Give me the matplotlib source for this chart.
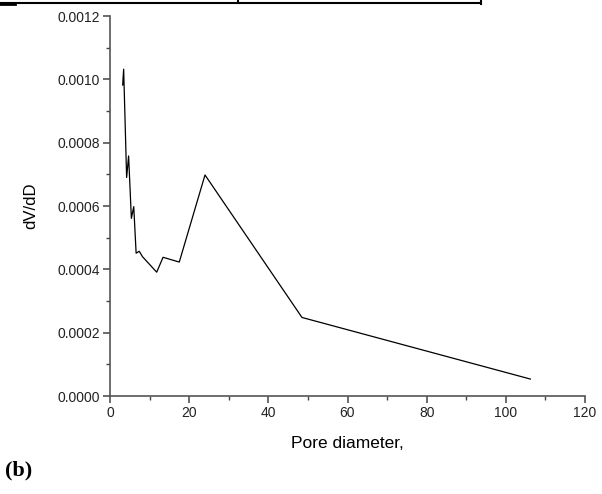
import matplotlib
matplotlib.use("Agg")
import matplotlib.pyplot as plt
from matplotlib.lines import Line2D
from matplotlib.ticker import MultipleLocator, FormatStrFormatter

# Pore size distribution (dV/dD vs pore diameter)
pore_diameter = [3.2, 3.45, 4.2, 4.7, 5.4, 6.0, 6.6, 7.4, 8.2, 11.8, 13.4, 17.5, 24.0, 48.5, 106.2]
dv_dd = [0.000982, 0.001032, 0.000690, 0.000758, 0.000561, 0.000598, 0.000451,
         0.000457, 0.000440, 0.000391, 0.000438, 0.000423, 0.000698, 0.000248, 0.0000535]

x_ticks = [0, 20, 40, 60, 80, 100, 120]
y_ticks = [0.0, 0.0002, 0.0004, 0.0006, 0.0008, 0.0010, 0.0012]

plt.rcParams['font.family'] = ['Liberation Sans', 'DejaVu Sans']

fig = plt.figure(figsize=(6.02, 4.94), dpi=100)
ax = fig.add_axes([110 / 602, 1 - 396 / 494, 475 / 602, 380 / 494])

ax.plot(pore_diameter, dv_dd, color='black', lw=0.9)

ax.set_xlim(0, 120)
ax.set_ylim(0, 0.0012)
ax.set_xticks(x_ticks)
ax.set_yticks(y_ticks)
ax.xaxis.set_minor_locator(MultipleLocator(10))
ax.yaxis.set_minor_locator(MultipleLocator(0.0001))
ax.yaxis.set_major_formatter(FormatStrFormatter('%.4f'))

for side in ('top', 'right'):
    ax.spines[side].set_visible(False)
for side in ('left', 'bottom'):
    ax.spines[side].set_color('#555555')
    ax.spines[side].set_linewidth(1.2)

ax.tick_params(which='major', direction='out', length=5, width=1.1, color='#444444',
               labelsize=10, labelcolor='#222222', pad=2)
ax.tick_params(which='minor', direction='out', length=3, width=1.0, color='#444444')

ax.set_xlabel('Pore diameter,', fontsize=12.5, labelpad=12)
ax.set_ylabel('dV/dD', fontsize=12, labelpad=14)

fig.text(5 / 602, 1 - 470 / 494, '(b)', fontsize=16, fontweight='bold',
         family=['Liberation Serif', 'DejaVu Serif'], va='center', ha='left')

# table border fragment along the top edge
H, W = 494, 602
def fline(x0, y0, x1, y1, lw):
    fig.add_artist(Line2D([x0 / W, x1 / W], [1 - y0 / H, 1 - y1 / H],
                          transform=fig.transFigure, color='black', lw=lw))

fline(0, 3.5, 481, 3.5, 1.5)
fline(0, 4.5, 15, 4.5, 2.0)
fline(238, 0, 238, 3.5, 1.5)
fline(481, 0, 481, 4.2, 1.5)

fig.savefig('out.png', dpi=100)
